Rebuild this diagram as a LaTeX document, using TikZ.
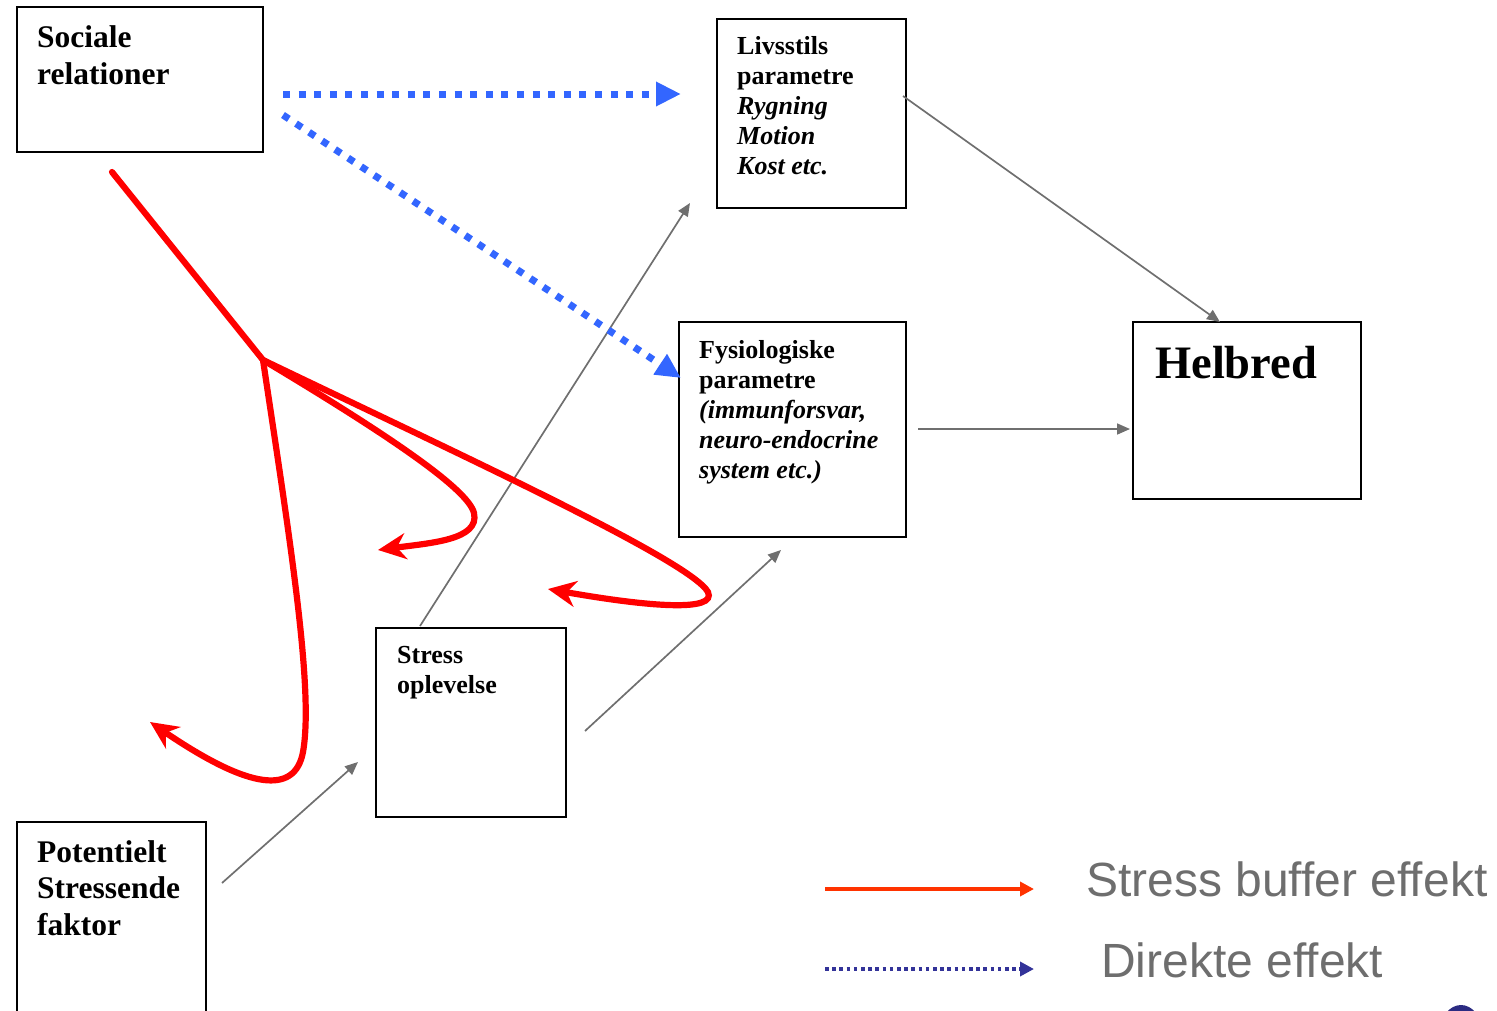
\documentclass[tikz,border=0pt]{standalone}
\usepackage{fontspec}
\setmainfont{Liberation Serif}
\newfontfamily\legfont{Liberation Sans}
\usetikzlibrary{arrows.meta}
\definecolor{arrgray}{HTML}{6F6F6F}
\definecolor{dirblue}{HTML}{3366FF}
\definecolor{bufred}{HTML}{FF0000}
\definecolor{legred}{HTML}{FF3300}
\definecolor{legblue}{HTML}{333399}
\definecolor{legtext}{HTML}{6E6E6E}
\begin{document}
\begin{tikzpicture}[x=1pt,y=-1pt,
  box/.style={draw=black,line width=1.8pt,rectangle,inner sep=0pt},
  txt/.style={anchor=base west,inner sep=0pt,align=left},
  grayarrow/.style={draw=arrgray,line width=1.7pt,-{Triangle[length=13pt,width=11pt]}},
  directarrow/.style={draw=dirblue,line width=7pt,dash pattern=on 7pt off 8.6pt,-{Triangle[length=25pt,width=23pt]}},
  bufferarrow/.style={draw=bufred,line width=6.2pt,line cap=round,-{Stealth[length=28pt,width=26pt,inset=9pt]}},
  legendtext/.style={anchor=base west,inner sep=0pt,text=legtext,font=\legfont\fontsize{48}{56}\selectfont}
]
\useasboundingbox (0,0) rectangle (1497,1010);

% boxes
\draw[box] (17,7) rectangle (263,152);
\node (soc) at (140,79.5) {};
\node[txt] (soctxt) at (37,47) {\vtop{\fontsize{31.5}{37}\selectfont\bfseries\hbox{Sociale}\hbox{relationer}}};

\draw[box] (717,19) rectangle (906,208);
\node (liv) at (811.5,113.5) {};
\node[txt] (livtxt) at (737,54) {\vtop{\fontsize{26}{30}\selectfont\bfseries\hbox{Livsstils}\hbox{parametre}\hbox{\itshape Rygning}\hbox{\itshape Motion}\hbox{\itshape Kost etc.}}};

\draw[box] (679,322) rectangle (906,537);
\node (fys) at (792.5,429.5) {};
\node[txt] (fystxt) at (699,358) {\vtop{\fontsize{26}{30}\selectfont\bfseries\hbox{Fysiologiske}\hbox{parametre}\hbox{\itshape (immunforsvar,}\hbox{\itshape neuro-endocrine}\hbox{\itshape system etc.)}}};

\draw[box] (1133,322) rectangle (1361,499);
\node (hel) at (1247,410.5) {};
\node[txt] (heltxt) at (1155,378) {\fontsize{46.5}{52}\selectfont\bfseries Helbred};

\draw[box] (376,628) rectangle (566,817);
\node (str) at (471,722.5) {};
\node[txt] (strtxt) at (397,663) {\vtop{\fontsize{26}{30}\selectfont\bfseries\hbox{Stress}\hbox{oplevelse}}};

\draw[box] (17,822) rectangle (206,1030);
\node (pot) at (111.5,926) {};
\node[txt] (pottxt) at (37,862) {\vtop{\fontsize{31.5}{36.5}\selectfont\bfseries\hbox{Potentielt}\hbox{Stressende}\hbox{faktor}}};

% connector end points
\coordinate (livout) at (903,96);
\coordinate (helin1) at (1220,322);
\coordinate (fysout) at (918,429);
\coordinate (helin2) at (1130,429);
\coordinate (strout1) at (420,626);
\coordinate (livin) at (690,203);
\coordinate (strout2) at (585,731);
\coordinate (fysin) at (781,550);
\coordinate (potout) at (222,883);
\coordinate (strin) at (358,762);

\draw[grayarrow] (livout) -- (helin1);
\draw[grayarrow] (fysout) -- (helin2);
\draw[grayarrow] (strout1) -- (livin);
\draw[grayarrow] (strout2) -- (fysin);
\draw[grayarrow] (potout) -- (strin);

% direct effects
\coordinate (socout1) at (283,94);
\coordinate (livin2) at (681,94);
\coordinate (socout2) at (283,115);
\coordinate (fysin2) at (681,378);
\draw[directarrow] (socout1) -- (livin2);
\draw[directarrow] (socout2) -- (fysin2);

% stress buffer effects
\coordinate (bufstart) at (112,172);
\coordinate (fork) at (263,360);
\coordinate (tip1) at (150,722);
\coordinate (tip2) at (378,550);
\coordinate (tip3) at (548,589);
\draw[draw=bufred,line width=6.2pt,line cap=round,line join=round] (bufstart) -- (fork);
\draw[bufferarrow] (fork) .. controls (290,540) and (314,690) .. (303,752)
   .. controls (295,795) and (250,790) .. (tip1);
\draw[bufferarrow] (fork) .. controls (380,430) and (468,488) .. (474,513)
   .. controls (480,540) and (430,543) .. (tip2);
\draw[bufferarrow] (fork) .. controls (450,450) and (690,560) .. (708,592)
   .. controls (717,612) and (650,607) .. (tip3);

% legend
\coordinate (lega) at (825,889);
\coordinate (legb) at (1034,889);
\coordinate (legc) at (825,969);
\coordinate (legd) at (1034,969);
\draw[draw=legred,line width=4pt,-{Triangle[length=14pt,width=14pt]}] (lega) -- (legb);
\draw[draw=legblue,line width=3.5pt,dash pattern=on 3.6pt off 3.6pt,-{Triangle[length=14pt,width=14pt]}] (legc) -- (legd);
\node[legendtext] (leg1) at (1086,896) {Stress buffer effekt};
\node[legendtext] (leg2) at (1101,977) {Direkte effekt};

% logo fragment
\fill[legblue!85!black] (1461,1032) ellipse [x radius=21, y radius=27];
\end{tikzpicture}
\end{document}
